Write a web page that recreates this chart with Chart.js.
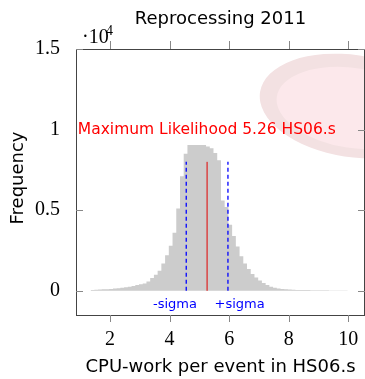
<!DOCTYPE html>
<html>
<head>
<meta charset="utf-8">
<script src="https://cdn.jsdelivr.net/npm/chart.js@4/dist/chart.umd.min.js"></script>
<style>
  html, body { margin: 0; padding: 0; background: #fff; }
  #wrap { width: 365px; height: 379px; position: relative; }
</style>
</head>
<body>
<div id="wrap"><canvas id="chart"></canvas></div>
<script>
// histogram of CPU-work per event (HS06.s)
const binStart = 1.35;
const binWidth = 0.125;
const counts = [
  30, 45, 60, 75, 90, 105, 120, 140, 160, 185,
  215, 250, 300, 360, 410, 460, 580, 800, 1000, 1250,
  1700, 2200, 2800, 3600, 5100, 7100, 8500, 9050, 9050, 9050,
  9050, 9050, 8950, 8850, 8550, 8100, 5600, 5200, 4100, 3400,
  2750, 2150, 1700, 1350, 1050, 820, 640, 480, 360, 260,
  190, 140, 110, 90, 75, 65, 58, 52, 47, 43,
  40, 37, 34, 31, 29, 27, 25, 23, 21, 20
];

const mlValue = 5.26;
const sigmaLow = 4.56;
const sigmaHigh = 5.96;
const markerHeight = 8000;

const xTicks = [2, 4, 6, 8, 10];
const yTicks = [0, 5000, 10000, 15000];
const yTickLabels = ['0', '0.5', '1', '1.5'];

const comic = '"DejaVu Sans", sans-serif';
const serif = '"Liberation Serif", serif';

// build step points from bin edges
const histPoints = counts.map((c, i) => ({ x: binStart + i * binWidth, y: c }));
histPoints.push({ x: binStart + counts.length * binWidth, y: 0 });

const decor = {
  id: 'decor',
  beforeDatasetsDraw(chart) {
    const { ctx, chartArea: a } = chart;
    ctx.save();
    ctx.beginPath();
    ctx.rect(a.left, a.top, a.right - a.left, a.bottom - a.top);
    ctx.clip();
    // faint logo in the corner
    ctx.fillStyle = 'rgb(243,225,226)';
    ctx.beginPath();
    ctx.ellipse(352, 106, 93, 51, 0.15, 0, Math.PI * 2);
    ctx.fill();
    ctx.fillStyle = 'rgb(252,232,235)';
    ctx.beginPath();
    ctx.ellipse(353, 108, 77, 40, 0.15, 0, Math.PI * 2);
    ctx.fill();
    ctx.restore();
  },
  afterDatasetsDraw(chart) {
    const { ctx, chartArea: a, scales } = chart;
    const x = scales.x, y = scales.y;
    ctx.save();

    // frame
    ctx.strokeStyle = '#444';
    ctx.lineWidth = 1;
    ctx.strokeRect(a.left + 0.5, a.top + 0.5, a.right - a.left - 1, a.bottom - a.top);

    // ticks (left one at 1 sits under the red label)
    ctx.strokeStyle = '#888';
    ctx.beginPath();
    xTicks.forEach(v => {
      const px = Math.round(x.getPixelForValue(v)) + 0.5;
      ctx.moveTo(px, a.bottom); ctx.lineTo(px, a.bottom + 7);
      ctx.moveTo(px, a.top); ctx.lineTo(px, a.top - 8);
    });
    yTicks.forEach(v => {
      const py = Math.round(y.getPixelForValue(v)) + 0.5;
      if (v !== 10000) { ctx.moveTo(a.left, py); ctx.lineTo(a.left + 7, py); }
      ctx.moveTo(a.right, py); ctx.lineTo(a.right - 7, py);
    });
    ctx.stroke();

    // annotations
    ctx.fillStyle = '#ff0000';
    ctx.font = '15.5px ' + comic;
    ctx.textAlign = 'left';
    ctx.textBaseline = 'middle';
    ctx.fillText('Maximum Likelihood 5.26 HS06.s', x.getPixelForValue(0.92), y.getPixelForValue(10000));

    ctx.fillStyle = '#0000ff';
    ctx.font = '13px ' + comic;
    ctx.textAlign = 'center';
    ctx.fillText('-sigma', x.getPixelForValue(4.18), y.getPixelForValue(-850));
    ctx.fillText('+sigma', x.getPixelForValue(6.35), y.getPixelForValue(-850));

    // titles
    ctx.fillStyle = '#000';
    ctx.font = '18px ' + comic;
    ctx.textBaseline = 'alphabetic';
    ctx.fillText('Reprocessing 2011', (a.left + a.right) / 2, 24);
    ctx.fillText('CPU-work per event in HS06.s', (a.left + a.right) / 2, 372);

    ctx.save();
    ctx.translate(23, 178);
    ctx.rotate(-Math.PI / 2);
    ctx.fillText('Frequency', 0, 0);
    ctx.restore();

    // exponent
    ctx.textAlign = 'left';
    ctx.font = '20px ' + serif;
    ctx.fillText('\u00b710', 82, 43);
    ctx.font = '14px ' + serif;
    ctx.fillText('4', 106, 35);

    ctx.restore();
  }
};

new Chart(document.getElementById('chart'), {
  type: 'line',
  data: {
    datasets: [
      {
        data: [{ x: mlValue, y: 0 }, { x: mlValue, y: markerHeight }],
        borderColor: '#e00000',
        borderWidth: 1,
        pointRadius: 0,
        order: 1
      },
      {
        data: [{ x: sigmaLow, y: 0 }, { x: sigmaLow, y: markerHeight }],
        borderColor: '#0000ff',
        borderWidth: 1.3,
        borderDash: [4, 3],
        pointRadius: 0,
        order: 1
      },
      {
        data: [{ x: sigmaHigh, y: 0 }, { x: sigmaHigh, y: markerHeight }],
        borderColor: '#0000ff',
        borderWidth: 1.3,
        borderDash: [4, 3],
        pointRadius: 0,
        order: 1
      },
      {
        data: histPoints,
        stepped: 'after',
        fill: 'origin',
        backgroundColor: '#cccccc',
        borderColor: 'rgba(0,0,0,0)',
        borderWidth: 1,
        pointRadius: 0,
        order: 2
      }
    ]
  },
  options: {
    responsive: true,
    maintainAspectRatio: false,
    animation: false,
    layout: { padding: { top: 49, right: 0, left: 0, bottom: 0 } },
    plugins: {
      legend: { display: false },
      tooltip: { enabled: false },
      title: { display: false }
    },
    scales: {
      x: {
        type: 'linear',
        min: 0.86,
        max: 10.56,
        afterBuildTicks: s => { s.ticks = xTicks.map(v => ({ value: v })); },
        afterFit: s => { s.height = 64; s.paddingLeft = 0; s.paddingRight = 0; },
        grid: { display: false },
        border: { display: false },
        ticks: {
          color: '#000',
          padding: 5,
          maxRotation: 0,
          font: { family: serif, size: 20 }
        }
      },
      y: {
        min: -1500,
        max: 15000,
        afterBuildTicks: s => { s.ticks = yTicks.map(v => ({ value: v })); },
        afterFit: s => { s.width = 76; s.paddingTop = 0; s.paddingBottom = 0; },
        grid: { display: false },
        border: { display: false },
        ticks: {
          color: '#000',
          padding: 8,
          font: { family: serif, size: 20 },
          callback: v => yTickLabels[yTicks.indexOf(v)]
        }
      }
    }
  },
  plugins: [decor]
});
</script>
</body>
</html>
